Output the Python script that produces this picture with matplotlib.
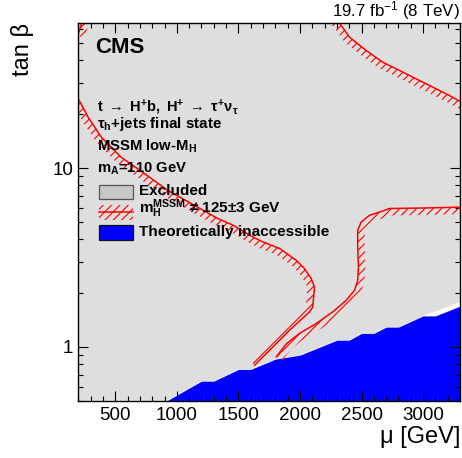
import numpy as np
import matplotlib
matplotlib.use("Agg")
import matplotlib.pyplot as plt
from matplotlib.patches import Polygon, Rectangle
from matplotlib.lines import Line2D
from matplotlib.ticker import MultipleLocator, LogLocator, FuncFormatter, NullFormatter

plt.rcParams['font.family'] = ['Liberation Sans', 'DejaVu Sans']
plt.rcParams['mathtext.fontset'] = 'custom'
plt.rcParams['mathtext.rm'] = 'Liberation Sans'
plt.rcParams['mathtext.bf'] = 'Liberation Sans:bold'
plt.rcParams['mathtext.it'] = 'Liberation Sans:italic'
plt.rcParams['mathtext.sf'] = 'Liberation Sans'
plt.rcParams['hatch.linewidth'] = 0.8

# ---------------- data ----------------
# theoretically inaccessible region (upper boundary)
inacc_mu = [920, 1200, 1300, 1500, 1600, 1800, 2000, 2100, 2300, 2400, 2500, 2600, 2700, 2800, 3000, 3100, 3300]
inacc_tanb = [0.50, 0.643, 0.643, 0.748, 0.748, 0.854, 0.899, 0.958, 1.09, 1.09, 1.19, 1.19, 1.29, 1.29, 1.49, 1.49, 1.69]

# excluded region (lower boundary)
excl_mu = [200, 920, 1200, 1300, 1500, 1600, 1800, 2000, 2100, 2300, 2400, 2500, 2600, 2700, 2800, 3000, 3300]
excl_tanb = [0.50, 0.50, 0.643, 0.643, 0.748, 0.748, 0.854, 0.899, 0.958, 1.09, 1.09, 1.19, 1.19, 1.29, 1.29, 1.49, 1.78]

# mH = 125 +- 3 GeV contours
contA_mu = [245, 228, 210, 195]
contA_tanb = [70, 64.6, 59, 55]

contB_mu = [185, 279, 386, 548, 738, 927, 1143, 1332, 1460, 1591, 1699, 1835, 1970, 2037,
            2091, 2118, 2104, 2078, 1916, 1754, 1632]
contB_tanb = [25.5, 19.3, 14.9, 11.5, 9.31, 7.50, 6.19, 5.22, 4.78, 4.21, 3.86, 3.55, 3.05, 2.74,
              2.41, 2.16, 1.67, 1.57, 1.24, 0.958, 0.79]

contC_mu = [3320, 3000, 2726, 2672, 2564, 2497, 2469, 2469, 2475, 2469, 2443, 2375, 2267, 2132,
            1997, 1889, 1808]
contC_tanb = [6.05, 5.98, 5.94, 5.75, 5.44, 4.99, 4.49, 3.62, 2.80, 2.36, 2.07, 1.82, 1.57, 1.35,
              1.19, 1.04, 0.88]

contD_mu = [2290, 2322, 2403, 2537, 2672, 2807, 2942, 3077, 3212, 3330]
contD_tanb = [68, 64.6, 53.9, 45.5, 39.1, 35.2, 31.6, 28.4, 25.5, 23.0]

# ---------------- figure ----------------
fig = plt.figure(figsize=(4.62, 4.58), dpi=100)
ax = fig.add_axes([0.1695, 0.1251, 0.8262, 0.8253])
ax.set_facecolor('white')
ax.set_xlim(200, 3300)
ax.set_yscale('log')
ax.set_ylim(0.5, 65)

ax.fill_between(excl_mu, excl_tanb, 200, color='#dedede', lw=0, zorder=0)
ax.fill_between(inacc_mu, 0.3, inacc_tanb, color='#0000ff', lw=0, zorder=1)


def hatched(mu, tb, side, width_px=7.0):
    pts = ax.transData.transform(np.column_stack([mu, tb]))
    d = np.gradient(pts, axis=0)
    d /= np.linalg.norm(d, axis=1)[:, None]
    n = np.column_stack([d[:, 1], -d[:, 0]]) * side
    off = pts + n * width_px
    poly = ax.transData.inverted().transform(np.vstack([pts, off[::-1]]))
    ax.add_patch(Polygon(poly, closed=True, facecolor='none', edgecolor='#ff0000',
                         hatch='////', lw=0, zorder=2))
    ax.plot(mu, tb, color='#ff0000', lw=1.1, zorder=3)


hatched(contA_mu, contA_tanb, -1)
hatched(contB_mu, contB_tanb, +1)
hatched(contC_mu, contC_tanb, -1)
hatched(contD_mu, contD_tanb, +1)

# ticks
ax.xaxis.set_major_locator(MultipleLocator(500))
ax.xaxis.set_minor_locator(MultipleLocator(100))
ax.yaxis.set_major_locator(LogLocator(base=10))
ax.yaxis.set_minor_locator(LogLocator(base=10, subs=np.arange(2, 10)))
ax.yaxis.set_major_formatter(FuncFormatter(lambda v, p: f'{v:g}'))
ax.yaxis.set_minor_formatter(NullFormatter())
ax.tick_params(which='both', direction='in', top=True, right=True, width=0.8, labelsize=13.5)
ax.tick_params(which='major', length=7.5)
ax.tick_params(which='minor', length=3.8)
ax.tick_params(axis='x', pad=4.5)
ax.tick_params(axis='y', pad=3.5)
for s in ax.spines.values():
    s.set_linewidth(1.0)
    s.set_zorder(5)

# labels
fig.text(0.9957, 0.0465, 'μ [GeV]', ha='right', va='center', fontsize=17)
fig.text(23 / 462, 0.950, 'tan β', rotation=90, ha='center', va='top', fontsize=17)
fig.text(0.9957, 0.9636, r'19.7 fb$^{-1}$ (8 TeV)', ha='right', va='baseline', fontsize=12.2)

ax.text(0.0437, 0.919, 'CMS', transform=ax.transAxes, fontsize=16, fontweight='bold', va='baseline')
tx = 0.048
ax.text(tx, 0.7646, r'$\mathbf{t\ \rightarrow\ H^{+}b,\ H^{+}\ \rightarrow\ \tau^{+}\nu_{\tau}}$',
        transform=ax.transAxes, fontsize=10.5, va='baseline')
ax.text(tx, 0.7206, r'$\mathbf{\tau_{h}}$+jets final state', transform=ax.transAxes,
        fontsize=10.9, fontweight='bold', va='baseline')
ax.text(tx, 0.6614, r'MSSM low-M$_{\mathbf{H}}$', transform=ax.transAxes,
        fontsize=10.7, fontweight='bold', va='baseline')
ax.text(tx, 0.6032, r'm$_{\mathbf{A}}$=110 GeV', transform=ax.transAxes,
        fontsize=10.7, fontweight='bold', va='baseline')

# legend
bx0, bw = 0.0546, 0.0874
ax.add_patch(Rectangle((bx0, 0.5344), bw, 0.0370, transform=ax.transAxes,
                       facecolor='#c8c8c8', edgecolor='#555555', lw=0.9, zorder=6))
ax.add_patch(Rectangle((bx0, 0.4788), bw, 0.0381, transform=ax.transAxes,
                       facecolor='none', edgecolor='#ff0000', hatch='////', lw=0, zorder=6))
ax.add_line(Line2D([bx0, bx0 + bw], [0.5005, 0.5005], transform=ax.transAxes,
                   color='#ff0000', lw=1.1, zorder=6))
ax.add_patch(Rectangle((bx0, 0.4259), bw, 0.0397, transform=ax.transAxes,
                       facecolor='#0000ff', edgecolor='#111111', lw=0.9, zorder=6))
lx = 0.1598
ax.text(lx, 0.5434, 'Excluded', transform=ax.transAxes, fontsize=11, fontweight='bold',
        va='baseline', zorder=7)
ax.text(lx, 0.4966, r'm$_{\mathbf{H}}^{\mathbf{MSSM}}$ ≠ 125±3 GeV', transform=ax.transAxes,
        fontsize=11, fontweight='bold', va='baseline', zorder=7)
ax.text(lx, 0.4349, 'Theoretically inaccessible', transform=ax.transAxes, fontsize=11,
        fontweight='bold', va='baseline', zorder=7)

fig.savefig('out.png', dpi=100)
